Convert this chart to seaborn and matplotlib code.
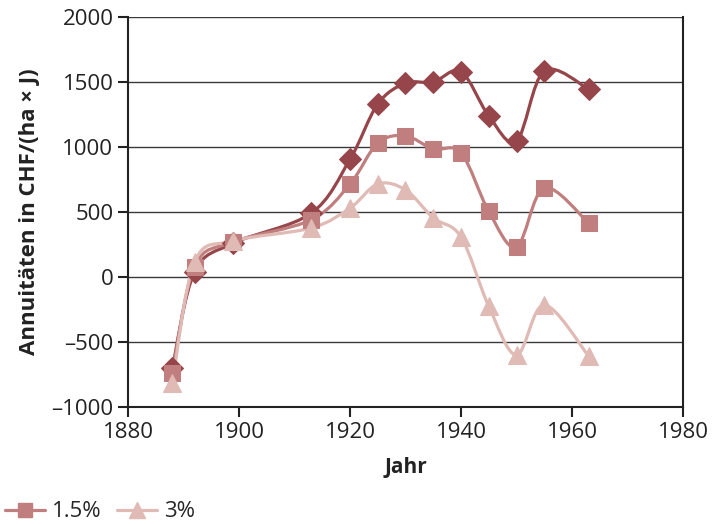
import matplotlib
matplotlib.use("Agg")
import matplotlib.pyplot as plt
from matplotlib.path import Path
from matplotlib.patches import PathPatch
from matplotlib.lines import Line2D
import numpy as np
import pandas as pd
import seaborn as sns

# Daten
jahre = [1888, 1892, 1899, 1913, 1920, 1925, 1930, 1935, 1940, 1945, 1950, 1955, 1963]
annuitaet_0 = [-700, 40, 260, 490, 905, 1330, 1490, 1500, 1580, 1240, 1045, 1585, 1445]
annuitaet_15 = [-740, 80, 270, 440, 715, 1030, 1085, 985, 955, 505, 230, 685, 415]
annuitaet_3 = [-815, 115, 277, 377, 530, 715, 670, 455, 308, -225, -600, -215, -608]

serien = ["0%", "1.5%", "3%"]
farben = {"0%": "#96464b", "1.5%": "#c07e7e", "3%": "#e0bab4"}
marker = {"0%": "D", "1.5%": "s", "3%": "^"}
groesse = {"0%": 11, "1.5%": 11, "3%": 13}

df = pd.DataFrame({
    "Jahr": jahre * 3,
    "Annuitaet": annuitaet_0 + annuitaet_15 + annuitaet_3,
    "Zins": ["0%"] * len(jahre) + ["1.5%"] * len(jahre) + ["3%"] * len(jahre),
})


def glatte_kurve(x, y):
    """Catmull-Rom -> Bezier Pfad (wie die geglaetteten Linien in Excel)"""
    pts = np.column_stack([x, y]).astype(float)
    n = len(pts)
    verts = [pts[0]]
    codes = [Path.MOVETO]
    for i in range(n - 1):
        p0 = pts[i - 1] if i > 0 else pts[i]
        p1 = pts[i]
        p2 = pts[i + 1]
        p3 = pts[i + 2] if i + 2 < n else pts[i + 1]
        c1 = p1 + (p2 - p0) / 6.0
        c2 = p2 - (p3 - p1) / 6.0
        verts += [c1, c2, p2]
        codes += [Path.CURVE4] * 3
    return Path(verts, codes)


sns.set_style("white")
plt.rcParams['font.family'] = ['Open Sans', 'DejaVu Sans']

fig = plt.figure(figsize=(7.28, 5.24), dpi=100)
ax = fig.add_axes([0.1758, 0.2233, 0.7624, 0.7443])

for z in serien:
    d = df[df["Zins"] == z]
    kurve = glatte_kurve(d["Jahr"].values, d["Annuitaet"].values)
    ax.add_patch(PathPatch(kurve, facecolor="none", edgecolor=farben[z], lw=2.3, zorder=3))
    sns.lineplot(data=d, x="Jahr", y="Annuitaet", ax=ax, color=farben[z], marker=marker[z],
                 markersize=groesse[z], markeredgecolor=farben[z], linewidth=0, zorder=4)

ax.set_xlim(1880, 1980)
ax.set_ylim(-1000, 2000)
ax.set_xticks(range(1880, 1981, 20))
ax.set_yticks(range(-1000, 2001, 500))
ax.set_yticklabels([str(v).replace("-", "\u2013") for v in range(-1000, 2001, 500)])
ax.yaxis.grid(True, color="#3a3a3a", lw=1.0)
ax.xaxis.grid(False)
ax.set_axisbelow(True)

for s in ["left", "bottom", "right"]:
    ax.spines[s].set_visible(True)
    ax.spines[s].set_color("#222222")
    ax.spines[s].set_linewidth(1.5)
ax.spines["top"].set_visible(False)

ax.tick_params(axis="both", which="major", labelsize=16, direction="out", length=7,
               width=1.5, color="#222222", labelcolor="#222222", bottom=True, left=True)
ax.tick_params(axis="x", pad=4)

ax.set_xlabel("Jahr", fontsize=15, fontweight="bold", labelpad=10, color="#222222")
ax.set_ylabel("Annuitäten in CHF/(ha × J)", fontsize=16, fontweight="bold", labelpad=8,
              color="#222222")

handles = [Line2D([0], [0], color=farben[z], marker=marker[z], markersize=groesse[z] - 1, lw=2.3)
           for z in ["1.5%", "3%"]]
fig.legend(handles, ["1.5%", "3%"], loc="lower left", bbox_to_anchor=(-0.02, -0.035), ncol=2,
           frameon=False, fontsize=16, handlelength=1.8, columnspacing=0.7, handletextpad=0.3)

fig.savefig("out.png", dpi=100)
